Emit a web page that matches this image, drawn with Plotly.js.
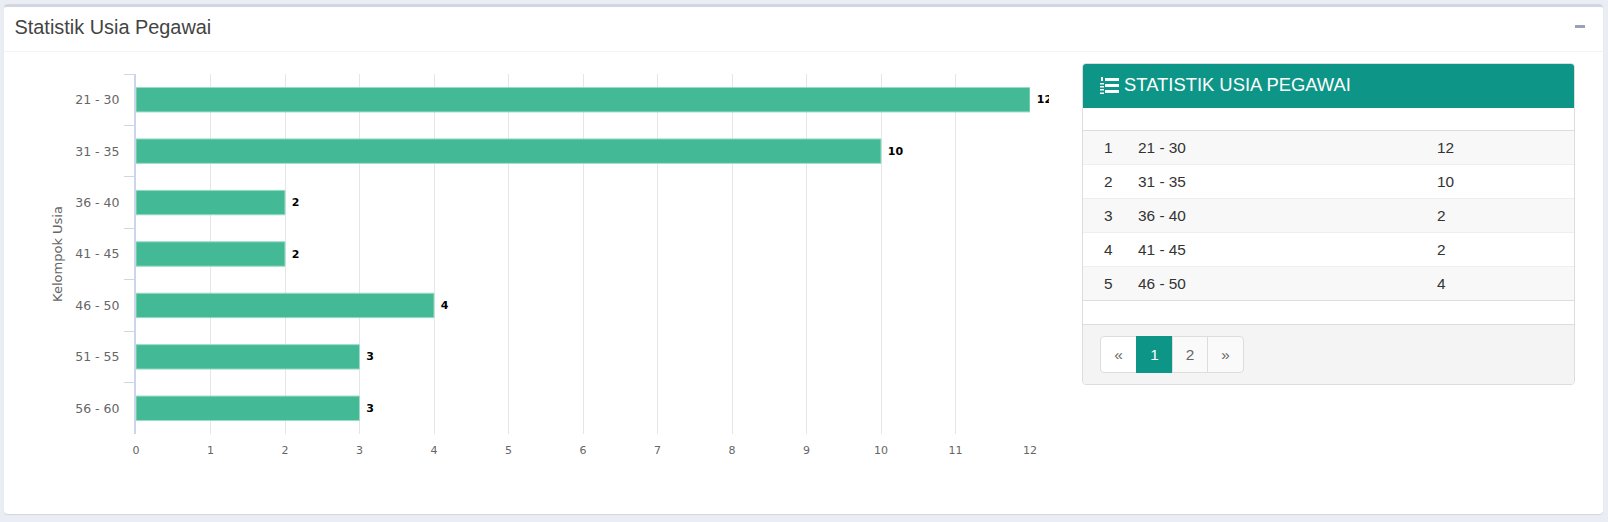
<!DOCTYPE html>
<html><head><meta charset="utf-8">
<script src="https://cdn.plot.ly/plotly-3.0.1.min.js"></script>
<style>
html,body{margin:0;padding:0;background:#eaeef4;width:1608px;height:522px;overflow:hidden;font-family:"Liberation Sans",Arial,sans-serif;color:#333}
.abs{position:absolute;box-sizing:border-box}
#card{left:4px;top:4px;width:1599px;height:510px;background:#fff;border-top:3px solid #d2d6e2;border-radius:4px;box-shadow:0 1px 1px rgba(0,0,0,.1)}
#hline{left:4px;top:51px;width:1599px;height:1px;background:#f2f3f5}
#title{left:14.5px;top:15px;font-size:19.9px;line-height:24px;color:#444}
#minus{left:1575px;top:25px;width:10px;height:3px;background:#9aa1ba}
#chart{left:0;top:0;width:1049px;height:522px;overflow:hidden}
#panel{left:1082px;top:63px;width:493px;height:322px;background:#fff;border:1px solid #ddd;border-radius:4px}
#phead{left:0;top:0;width:491px;height:44px;background:#0d9587;border-radius:3px 3px 0 0;color:#fff;font-size:18.4px;line-height:41px;padding-left:41px}
#icon{left:17px;top:12px;width:19px;height:19px}
.row{left:0;width:491px;height:34px;font-size:15.4px;line-height:33px;border-top:1px solid #eee}
.row span{position:absolute}
#pfoot{left:0;top:260px;width:491px;height:60px;background:#f4f4f4;border-top:1px solid #ddd;border-radius:0 0 3px 3px}
.pg{top:11px;height:37px;line-height:35px;text-align:center;font-size:15.4px;color:#666;background:#fafafa;border:1px solid #ddd}
</style></head><body>
<div class="abs" id="card"></div>
<div class="abs" id="hline"></div>
<div class="abs" id="title">Statistik Usia Pegawai</div>
<div class="abs" id="minus"></div>
<div class="abs" id="chart"></div>
<div class="abs" id="panel">
  <div class="abs" id="phead"><svg class="abs" id="icon" viewBox="0 0 19 19"><g fill="#fff"><rect x="5" y="2" width="14" height="3"/><rect x="5" y="8" width="14" height="3"/><rect x="5" y="14" width="14" height="3"/><rect x="1" y="1" width="2" height="4"/><rect x="0" y="7" width="4" height="1.5"/><rect x="0" y="10" width="4" height="1.5"/><rect x="0" y="13" width="4" height="1.5"/><rect x="0" y="16.5" width="4" height="1.5"/></g></svg>STATISTIK USIA PEGAWAI</div>
  <div id="rows"></div>
  <div class="abs" id="pfoot">
    <div class="abs pg" style="left:17px;width:37px;background:#fff;border-radius:4px 0 0 4px">«</div>
    <div class="abs pg" style="left:53px;width:37px;background:#0d9587;border-color:#0d9587;color:#fff">1</div>
    <div class="abs pg" style="left:89px;width:36px">2</div>
    <div class="abs pg" style="left:124px;width:37px;border-radius:0 4px 4px 0">»</div>
  </div>
</div>
<script>
var categories = ["21 - 30","31 - 35","36 - 40","41 - 45","46 - 50","51 - 55","56 - 60"];
var counts = [12,10,2,2,4,3,3];
var tableNumbers = [1,2,3,4,5];
var tableRanges = ["21 - 30","31 - 35","36 - 40","41 - 45","46 - 50"];
var tableCounts = [12,10,2,2,4];
var xTicks = [0,1,2,3,4,5,6,7,8,9,10,11,12];

var html = "";
tableNumbers.forEach(function(n,i){
  html += '<div class="abs row" style="top:'+(66+i*34)+'px;background:'+(i%2==0?'#f8f8f8':'#fff')+'">'
    + '<span style="left:21px">'+n+'</span><span style="left:55px">'+tableRanges[i]+'</span><span style="left:354px">'+tableCounts[i]+'</span></div>';
});
html += '<div class="abs" style="left:0;top:66px;width:491px;height:1px;background:#ddd"></div>';
html += '<div class="abs" style="left:0;top:236px;width:491px;height:1px;background:#ddd"></div>';
document.getElementById("rows").innerHTML = html;

var fontFam = '"DejaVu Sans", sans-serif';
Plotly.newPlot("chart",[{
  type:"bar",orientation:"h",
  y:categories,x:counts,
  text:counts.map(function(v){return "\u00a0"+v;}),
  textposition:"outside",
  cliponaxis:false,
  constraintext:"none",
  textangle:0,
  textfont:{family:fontFam,size:11,color:"#000",weight:700},
  marker:{color:"#43ba95",line:{color:"#9adcc5",width:1}},
  width:0.475,
  hoverinfo:"none"
}],{
  width:1049,height:522,
  margin:{l:135.5,r:18.5,t:74,b:88,pad:0},
  paper_bgcolor:"rgba(0,0,0,0)",plot_bgcolor:"rgba(0,0,0,0)",
  showlegend:false,
  xaxis:{range:[0,12],tickvals:xTicks,ticktext:xTicks.map(String),showgrid:true,gridcolor:"#e6e6e6",gridwidth:1,zeroline:false,showline:false,ticks:"",ticklabelstandoff:8,
    tickfont:{family:fontFam,size:11,color:"#666"},automargin:false},
  yaxis:{type:"category",categoryorder:"array",categoryarray:categories,range:[6.5,-0.5],showgrid:false,zeroline:false,
    showline:true,linecolor:"#ccd6eb",linewidth:2,ticks:"outside",tickson:"boundaries",ticklen:10,tickcolor:"#ccd6eb",tickwidth:1,ticklabelstandoff:12,
    tickfont:{family:fontFam,size:12.5,color:"#666"},automargin:false,
    title:{text:"Kelompok Usia",font:{family:fontFam,size:13,color:"#666"},standoff:10}}
},{displayModeBar:false,staticPlot:true});
</script>
</body></html>
